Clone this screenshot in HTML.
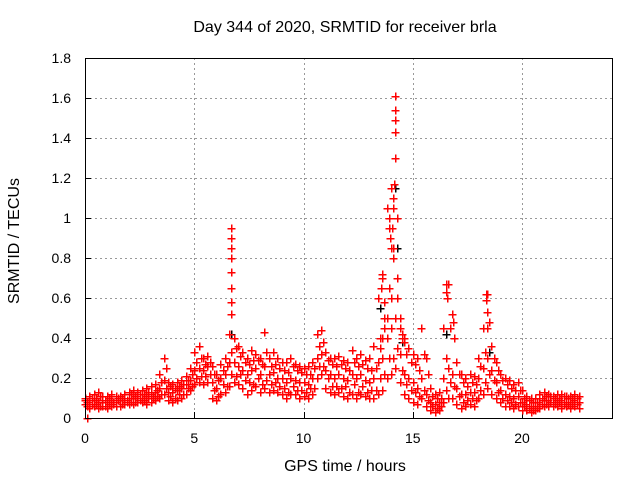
<!DOCTYPE html>
<html><head><meta charset="utf-8"><style>
body{margin:0;background:#fff}
svg text{font-family:"Liberation Sans",sans-serif;font-size:14px;fill:#000}
svg text.big{font-size:16px}
</style></head><body>
<svg id="chart" width="640" height="480" xmlns="http://www.w3.org/2000/svg">
<text class="big" x="345" y="32" text-anchor="middle">Day 344 of 2020, SRMTID for receiver brla</text>
<text class="big" x="345" y="471" text-anchor="middle">GPS time / hours</text>
<text class="big" x="19" y="241" text-anchor="middle" transform="rotate(-90 19 241)">SRMTID / TECUs</text>
<g id="grid"></g><g id="ticks"></g><g id="marks" shape-rendering="crispEdges"></g>
<rect x="85.5" y="58.5" width="527" height="360" fill="none" stroke="#000" stroke-width="1"/>
</svg>
<script>
const xTicks=[0,5,10,15,20];
const yTicks=[0,0.2,0.4,0.6,0.8,1,1.2,1.4,1.6,1.8];
const yTickLabels=["0","0.2","0.4","0.6","0.8","1","1.2","1.4","1.6","1.8"];
const tStart=0, tStep=0.2, tOffStart=0.1;
const lowVals=[.07,.05,.06,.05,.06,.05,.06,.06,.06,.07,.07,.07,.08,.08,.07,.08,.09,.10,.12,.09,.08,.09,.10,.12,.14,.17,.18,.17,.18,.10,.09,.12,.13,.16,.18,.17,.15,.12,.14,.16,.13,.15,.13,.14,.13,.12,.10,.12,.12,.10,.11,.10,.12,.20,.22,.15,.13,.12,.13,.11,.10,.12,.10,.12,.11,.10,.10,.12,.14,.20,.22,.25,.18,.12,.10,.08,.07,.10,.06,.04,.03,.04,.08,.10,.10,.07,.05,.06,.07,.06,.10,.12,.15,.12,.10,.08,.06,.06,.05,.06,.04,.04,.03,.04,.05,.06,.06,.06,.06,.05,.06,.05,.06,.05];
const midVals=[.09,.08,.09,.08,.09,.08,.09,.08,.09,.10,.10,.10,.11,.10,.11,.12,.13,.15,.19,.13,.13,.14,.15,.17,.19,.24,.25,.24,.26,.18,.15,.20,.22,.28,.28,.26,.24,.22,.24,.25,.22,.26,.22,.23,.20,.20,.18,.20,.19,.18,.18,.17,.20,.30,.32,.24,.22,.20,.22,.20,.19,.22,.20,.22,.19,.18,.20,.28,.30,.40,.45,.50,.32,.22,.20,.18,.15,.20,.12,.08,.07,.08,.20,.25,.22,.15,.12,.12,.13,.13,.20,.25,.30,.24,.18,.14,.12,.11,.10,.11,.08,.07,.06,.06,.08,.09,.09,.08,.09,.09,.08,.08,.09,.08];
const highVals=[.10,.11,.12,.13,.11,.11,.12,.11,.11,.12,.13,.14,.13,.14,.15,.16,.17,.22,.30,.18,.17,.18,.19,.21,.25,.33,.36,.30,.31,.26,.22,.27,.30,.42,.40,.36,.33,.30,.34,.32,.30,.43,.30,.33,.30,.28,.28,.30,.27,.26,.25,.26,.28,.42,.44,.33,.30,.30,.31,.29,.28,.34,.30,.32,.29,.30,.36,.60,.72,1.05,1.15,1.61,.50,.40,.35,.32,.30,.45,.30,.15,.12,.13,.45,.67,.52,.28,.22,.20,.22,.21,.30,.45,.62,.36,.28,.22,.20,.19,.17,.18,.14,.11,.10,.10,.12,.13,.12,.11,.12,.12,.11,.11,.12,.11];
const offA=[.08,.07,.10,.06,.09,.07,.08,.10,.07,.09,.08,.11,.09,.12,.10,.11,.14,.12,.25,.11,.15,.12,.17,.15,.22,.20,.30,.21,.28,.14,.19,.17,.26,.22,.35,.22,.28,.18,.29,.20,.27,.19,.26,.18,.25,.15,.23,.16,.24,.14,.22,.15,.25,.26,.38,.20,.27,.16,.27,.16,.24,.17,.26,.16,.25,.14,.25,.20,.50,.30,.85,.35,.42,.17,.28,.13,.24,.14,.22,.06,.10,.06,.30,.18,.40,.11,.18,.09,.18,.09,.26,.18,.48,.19,.24,.10,.17,.08,.14,.08,.10,.05,.08,.05,.10,.07,.11,.07,.10,.07,.10,.07,.10];
const offB=[.06,.10,.07,.11,.06,.10,.07,.09,.10,.08,.12,.08,.12,.09,.13,.10,.11,.18,.15,.16,.10,.16,.12,.19,.16,.28,.21,.27,.22,.22,.11,.24,.16,.33,.21,.31,.19,.27,.17,.29,.17,.33,.17,.27,.16,.24,.13,.26,.14,.23,.13,.22,.15,.36,.26,.29,.16,.26,.15,.25,.13,.28,.13,.27,.13,.24,.14,.40,.22,.65,.30,1.00,.24,.32,.14,.27,.11,.32,.09,.11,.05,.10,.14,.45,.16,.22,.08,.16,.10,.17,.14,.33,.22,.30,.13,.19,.09,.15,.07,.14,.06,.09,.04,.08,.07,.11,.08,.10,.08,.11,.07,.10,.07];
const spikeTimes=[6.7,6.7,6.7,6.7,6.7,6.7,6.7,6.7,14.2,14.2,14.2,14.2,14.2,14.15,14.1,14.1,14.05,14.0,14.1,13.6,13.55,13.7,13.9,13.9,13.95,14.3,14.3,16.5,16.5,16.55,16.8,16.85,18.35,18.35,18.4,18.4,13.7,13.8,14.0,14.4,14.5,14.6,13.5,13.6];
const spikeVals=[.95,.9,.85,.8,.73,.65,.58,.52,1.61,1.54,1.49,1.43,1.30,1.17,1.10,1.05,.95,.85,.80,.70,.65,.58,1.0,.95,.90,.70,.60,.67,.63,.60,.52,.48,.62,.59,.53,.45,.45,.5,.6,.45,.40,.38,.35,.40];
const blackTimes=[6.7,14.2,14.3,13.5,16.5,18.4,18.5,14.5];
const blackVals=[.42,1.15,.85,.55,.42,.45,.33,.38];
const NS="http://www.w3.org/2000/svg";
const X=t=>85+t*21.85, Y=v=>418-v*200;
const grid=document.getElementById('grid'),ticks=document.getElementById('ticks'),marks=document.getElementById('marks');
function mk(tag,attrs,parent){const e=document.createElementNS(NS,tag);for(const k in attrs)e.setAttribute(k,attrs[k]);parent.appendChild(e);return e;}
xTicks.forEach(t=>{
 const xp=Math.round(X(t))+0.5;
 if(t>0){const g=mk('line',{x1:xp,x2:xp,y1:58,y2:418,stroke:'#999','stroke-dasharray':'2,3'},grid);
 
 }
 mk('line',{x1:xp,x2:xp,y1:418,y2:412,stroke:'#000'},ticks);
 const l=mk('text',{x:X(t),y:443,'text-anchor':'middle'},ticks);l.textContent=t;
 
 
});
yTicks.forEach((v,i)=>{
 const yp=Math.round(Y(v))+0.5;
 if(v>0&&v<1.8){const g=mk('line',{x1:85,x2:612,y1:yp,y2:yp,stroke:'#999','stroke-dasharray':'2,3'},grid);
 
 }
 mk('line',{x1:85,x2:91,y1:yp,y2:yp,stroke:'#000'},ticks);
 const l=mk('text',{x:71,y:Y(v)+5,'text-anchor':'end'},ticks);l.textContent=yTickLabels[i];
 
 
});
function plus(t,v,col){const x=Math.round(X(t))+0.5,y=Math.round(Y(v))+0.5;
 const p=mk('path',{d:`M${x-4},${y}h8M${x},${y-4}v8`,stroke:col,'stroke-width':1.5,fill:'none'},marks);
 
 }
blackTimes.forEach((t,i)=>plus(t,blackVals[i],'#000'));
[lowVals,midVals,highVals].forEach(arr=>arr.forEach((v,i)=>plus(tStart+i*tStep,v,'#f00')));
[offA,offB].forEach(arr=>arr.forEach((v,i)=>plus(tOffStart+i*tStep,v,'#f00')));
spikeTimes.forEach((t,i)=>plus(t,spikeVals[i],'#f00'));
plus(0.1,0,'#f00');
</script>
</body></html>
